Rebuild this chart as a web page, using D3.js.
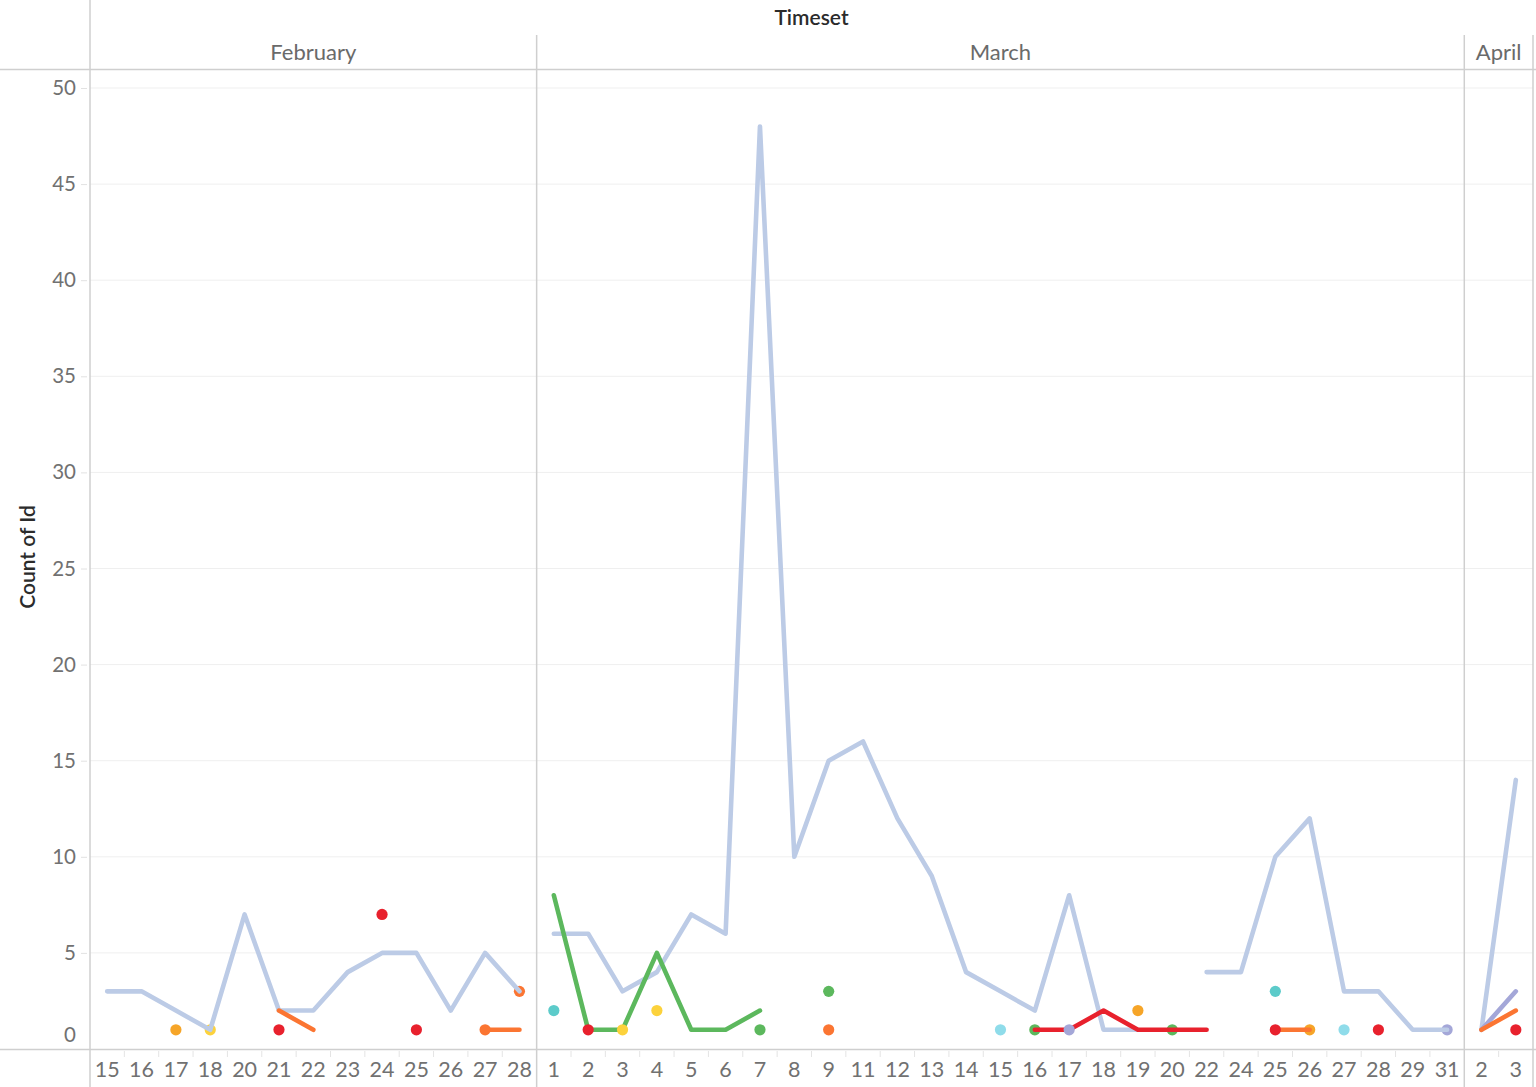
<!DOCTYPE html>
<html>
<head>
<meta charset="utf-8">
<script src="https://cdn.jsdelivr.net/npm/d3@7"></script>
<style>
  html, body { margin: 0; padding: 0; background: #fff; }
  svg { display: block; }
  text { font-family: Lato, "Open Sans", sans-serif; }
</style>
</head>
<body>
<svg id="chart" width="1536" height="1087"></svg>
<script>
// ---------- data ----------
const months = ["February", "March", "April"];
const febDays = [15, 16, 17, 18, 20, 21, 22, 23, 24, 25, 26, 27, 28];
const marDays = [1, 2, 3, 4, 5, 6, 7, 8, 9, 11, 12, 13, 14, 15, 16, 17, 18, 19, 20, 22, 24, 25, 26, 27, 28, 29, 31];
const aprDays = [2, 3];
const yTicks = [0, 5, 10, 15, 20, 25, 30, 35, 40, 45, 50];

// line series: [month, day, count]  (null count breaks the line)
const blueLine = [
  ["February", 15, 3], ["February", 16, 3], ["February", 17, 2], ["February", 18, 1], ["February", 20, 7],
  ["February", 21, 2], ["February", 22, 2], ["February", 23, 4], ["February", 24, 5], ["February", 25, 5],
  ["February", 26, 2], ["February", 27, 5], ["February", 28, 3],
  ["March", 1, 6], ["March", 2, 6], ["March", 3, 3], ["March", 4, 4], ["March", 5, 7], ["March", 6, 6],
  ["March", 7, 48], ["March", 8, 10], ["March", 9, 15], ["March", 11, 16], ["March", 12, 12], ["March", 13, 9],
  ["March", 14, 4], ["March", 15, 3], ["March", 16, 2], ["March", 17, 8], ["March", 18, 1], ["March", 19, 1],
  ["March", 20, null], ["March", 22, 4], ["March", 24, 4], ["March", 25, 10], ["March", 26, 12], ["March", 27, 3],
  ["March", 28, 3], ["March", 29, 1], ["March", 31, 1],
  ["April", 2, 1], ["April", 3, 14]
];
const greenLine = [["March", 1, 8], ["March", 2, 1], ["March", 3, 1], ["March", 4, 5], ["March", 5, 1], ["March", 6, 1], ["March", 7, 2]];
const redLine = [["March", 16, 1], ["March", 17, 1], ["March", 18, 2], ["March", 19, 1], ["March", 20, 1], ["March", 22, 1]];
const orangeLineA = [["February", 21, 2], ["February", 22, 1]];
const orangeLineB = [["February", 27, 1], ["February", 28, 1]];
const orangeLineC = [["March", 25, 1], ["March", 26, 1]];
const orangeLineD = [["April", 2, 1], ["April", 3, 2]];
const lavenderLine = [["April", 2, 1], ["April", 3, 3]];

// single marks: [month, day, count]
const underDots = [["February", 28, 3, "orange"], ["February", 18, 1, "yellow"], ["March", 31, 1, "lavender"]];
const greenDots = [["March", 7, 1], ["March", 9, 3], ["March", 16, 1], ["March", 20, 1]];
const amberDotsUnder = [["March", 26, 1]];
const redDots = [["February", 21, 1], ["February", 24, 7], ["February", 25, 1], ["March", 2, 1], ["March", 25, 1], ["March", 28, 1], ["April", 3, 1]];
const yellowDots = [["March", 3, 1], ["March", 4, 2]];
const amberDots = [["February", 17, 1], ["March", 19, 2]];
const orangeDots = [["February", 27, 1], ["March", 9, 1]];
const tealDots = [["March", 1, 2], ["March", 25, 3]];
const cyanDots = [["March", 15, 1], ["March", 27, 1]];
const lavenderDots = [["March", 17, 1]];

const colors = {
  blue: "#bccbe6", green: "#5cb85d", red: "#e8212d", orange: "#fb7532",
  amber: "#f6a528", yellow: "#fcd23c", teal: "#5ccbca", cyan: "#8fdcea", lavender: "#a4a7d8"
};

// ---------- layout ----------
const W = 1536, H = 1087;
const plotL = 90, plotR = 1533, plotT = 70, plotB = 1049;
const gridC = "#efefef", lineC = "#cfcfcf";

const keys = [];
months.forEach((m, i) => [febDays, marDays, aprDays][i].forEach(d => keys.push(m + "|" + d)));
const x = d3.scaleBand().domain(keys).range([plotL, plotR]).padding(0);
const xc = (m, d) => x(m + "|" + d) + x.bandwidth() / 2;
const y = d3.scaleLinear().domain([0, 50]).range([plotB, 88]);

const svg = d3.select("#chart");

// gridlines
svg.append("g").selectAll("line").data(yTicks.filter(t => t > 0)).join("line")
  .attr("x1", plotL).attr("x2", plotR).attr("y1", d => y(d)).attr("y2", d => y(d))
  .attr("stroke", gridC).attr("stroke-width", 1);

// y axis
const yAxis = d3.axisLeft(y).tickValues(yTicks).tickSize(6).tickPadding(5);
const gy = svg.append("g").attr("transform", `translate(${plotL - 3},0)`).call(yAxis);
gy.select(".domain").remove();
gy.selectAll(".tick line").attr("stroke", "#e2e2e2");
gy.selectAll(".tick text").attr("fill", "#717171").style("font-size", "20.5px").style("font-family", "Lato, sans-serif");
gy.selectAll(".tick").filter(d => d === 0).select("text").attr("dy", "-0.35em");

// x axis per band
const gx = svg.append("g").attr("transform", `translate(0,${plotB})`);
const xAxis = d3.axisBottom(x).tickSize(0).tickPadding(13).tickFormat(k => k.split("|")[1]);
gx.call(xAxis);
gx.select(".domain").remove();
gx.selectAll(".tick text").attr("fill", "#717171").style("font-size", "21.5px").style("font-family", "Lato, sans-serif");
// small ticks at band boundaries inside panes
const boundaries = [];
months.forEach((m, i) => {
  const ds = [febDays, marDays, aprDays][i];
  ds.slice(1).forEach(d => boundaries.push(x(m + "|" + d)));
});
gx.selectAll("line.bt").data(boundaries).join("line").attr("class", "bt")
  .attr("x1", d => d).attr("x2", d => d).attr("y1", 2).attr("y2", 8)
  .attr("stroke", "#e4e4e4");

// structure lines
const paneEdges = [x("March|1"), x("April|2")];
svg.append("line").attr("x1", 0).attr("x2", W).attr("y1", 69.5).attr("y2", 69.5).attr("stroke", lineC).attr("stroke-width", 1.5);
svg.append("line").attr("x1", 0).attr("x2", W).attr("y1", plotB + 0.5).attr("y2", plotB + 0.5).attr("stroke", lineC).attr("stroke-width", 1.5);
svg.append("line").attr("x1", plotL).attr("x2", plotL).attr("y1", 0).attr("y2", H).attr("stroke", lineC).attr("stroke-width", 1.5);
paneEdges.concat([plotR]).forEach(px => {
  svg.append("line").attr("x1", px).attr("x2", px).attr("y1", 35).attr("y2", H).attr("stroke", lineC).attr("stroke-width", 1.5);
});

// headers
svg.append("text").attr("x", (plotL + plotR) / 2).attr("y", 25).attr("text-anchor", "middle")
  .attr("fill", "#2b2b2b").style("font-size", "21px").style("font-weight", "600").text("Timeset");
const paneBounds = [[plotL, paneEdges[0]], [paneEdges[0], paneEdges[1]], [paneEdges[1], plotR]];
months.forEach((m, i) => {
  svg.append("text").attr("x", (paneBounds[i][0] + paneBounds[i][1]) / 2).attr("y", 60)
    .attr("text-anchor", "middle").attr("fill", "#6a6a6a").style("font-size", "22px").text(m);
});
svg.append("text").attr("transform", `translate(35,557) rotate(-90)`).attr("text-anchor", "middle")
  .attr("fill", "#2b2b2b").style("font-size", "21px").style("font-weight", "600").text("Count of Id");

// ---------- marks ----------
svg.append("clipPath").attr("id", "plotclip").append("rect")
  .attr("x", plotL).attr("y", plotT).attr("width", plotR - plotL).attr("height", plotB - plotT);
const marks = svg.append("g").attr("clip-path", "url(#plotclip)");

const lineGen = d3.line().defined(d => d[2] !== null).x(d => xc(d[0], d[1])).y(d => y(d[2]));
function drawLine(data, color) {
  months.forEach(m => {
    const part = data.filter(d => d[0] === m);
    if (part.length > 1) {
      marks.append("path").datum(part).attr("d", lineGen).attr("fill", "none")
        .attr("stroke", color).attr("stroke-width", 4.6)
        .attr("stroke-linecap", "round").attr("stroke-linejoin", "round");
    }
  });
}
function drawDots(data, color) {
  marks.append("g").selectAll("circle").data(data).join("circle")
    .attr("cx", d => xc(d[0], d[1])).attr("cy", d => y(d[2])).attr("r", 5.6)
    .attr("fill", d => d[3] ? colors[d[3]] : color);
}

drawDots(underDots);
drawLine(blueLine, colors.blue);
drawDots(greenDots, colors.green);
drawLine(greenLine, colors.green);
drawLine(redLine, colors.red);
drawDots(amberDotsUnder, colors.amber);
drawLine(lavenderLine, colors.lavender);
[orangeLineA, orangeLineB, orangeLineC, orangeLineD].forEach(l => drawLine(l, colors.orange));
drawDots(redDots, colors.red);
drawDots(yellowDots, colors.yellow);
drawDots(amberDots, colors.amber);
drawDots(orangeDots, colors.orange);
drawDots(tealDots, colors.teal);
drawDots(cyanDots, colors.cyan);
drawDots(lavenderDots, colors.lavender);
</script>
</body>
</html>
